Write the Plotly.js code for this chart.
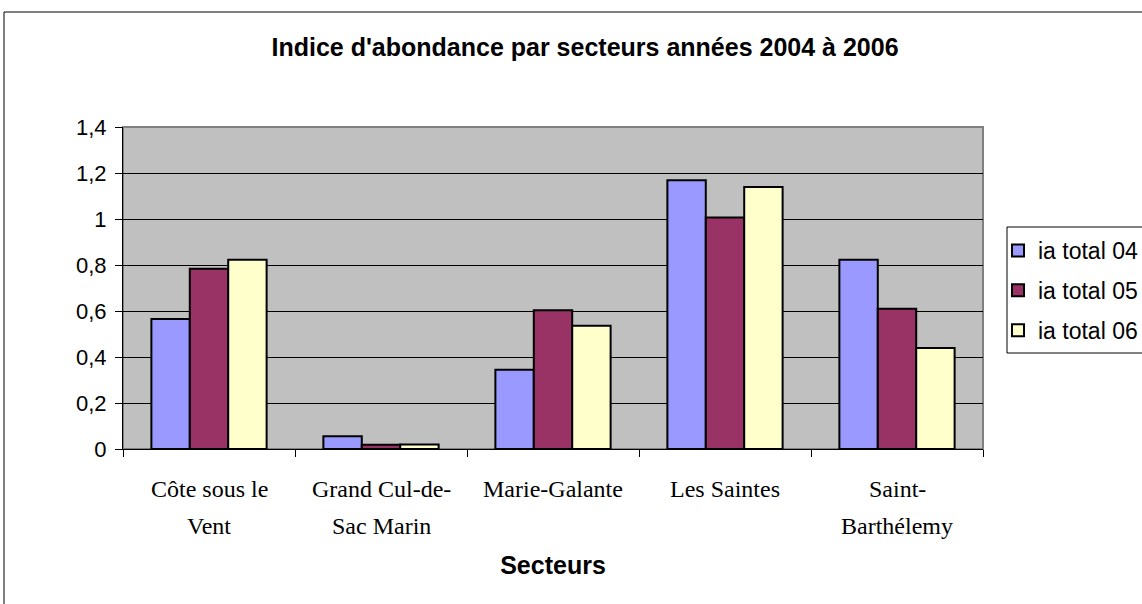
<!DOCTYPE html>
<html>
<head>
<meta charset="utf-8">
<script src="https://cdn.plot.ly/plotly-3.0.1.min.js"></script>
<style>html,body{margin:0;padding:0;background:#fff;}#chart{width:1142px;height:604px;}</style>
</head>
<body>
<div id="chart"></div>
<script>
var categories = ["Côte sous le Vent", "Grand Cul-de-Sac Marin", "Marie-Galante", "Les Saintes", "Saint-Barthélemy"];
var labelLines = [["Côte sous le", "Vent"], ["Grand Cul-de-", "Sac Marin"], ["Marie-Galante"], ["Les Saintes"], ["Saint-", "Barthélemy"]];
var seriesNames = ["ia total 04", "ia total 05", "ia total 06"];
var ia04 = [0.565, 0.055, 0.345, 1.168, 0.823];
var ia05 = [0.784, 0.019, 0.603, 1.006, 0.610];
var ia06 = [0.823, 0.020, 0.536, 1.139, 0.439];
var yTickVals = [0, 0.2, 0.4, 0.6, 0.8, 1, 1.2, 1.4];
var yTickText = ["0", "0,2", "0,4", "0,6", "0,8", "1", "1,2", "1,4"];
var colors = ["#9999FF", "#993366", "#FFFFCC"];

var sans = "Liberation Sans, Arial, sans-serif";
var serif = "Liberation Serif, Times New Roman, serif";

var values = [ia04, ia05, ia06];
var traces = values.map(function (v, i) {
  return {
    type: "bar",
    name: seriesNames[i],
    x: categories,
    y: v,
    legendgroup: "g" + i,
    marker: {color: colors[i], line: {color: "#000", width: 2}},
    hoverinfo: "x+y+name"
  };
});

// plot area geometry (px) for paper conversions
var L = 123, R = 983, T = 127, B = 449;
function px2x(px) { return (px - L) / (R - L); }
function py2y(py) { return (B - py) / (B - T); }

var annotations = [];
var lineY = [489, 526];
labelLines.forEach(function (lines, i) {
  lines.forEach(function (t, j) {
    annotations.push({
      xref: "x", yref: "paper", x: categories[i], y: py2y(lineY[j]),
      text: t, showarrow: false, xanchor: "center", yanchor: "middle",
      font: {family: serif, size: 24, color: "#000"}
    });
  });
});

var layout = {
  width: 1142, height: 604,
  margin: {l: L, r: 1142 - R, t: T, b: 604 - B, pad: 0, autoexpand: false},
  paper_bgcolor: "#fff",
  plot_bgcolor: "#C0C0C0",
  barmode: "group",
  bargap: 0.33,
  bargroupgap: 0,
  showlegend: true,
  title: {
    text: "<b>Indice d'abondance par secteurs années 2004 à 2006</b>",
    font: {family: sans, size: 25, color: "#000"},
    x: 585 / 1142, xanchor: "center", xref: "container",
    y: 1 - 47 / 604, yanchor: "middle", yref: "container"
  },
  xaxis: {
    type: "category",
    showticklabels: false,
    ticks: "outside", ticklen: 7, tickcolor: "#000", tickwidth: 1,
    tickson: "boundaries",
    showline: true, linecolor: "#000", linewidth: 1,
    showgrid: false, zeroline: false, automargin: false,
    title: {text: "<b>Secteurs</b>", font: {family: sans, size: 25, color: "#000"}, standoff: 107}
  },
  yaxis: {
    range: [0, 1.4],
    tickvals: yTickVals, ticktext: yTickText,
    ticks: "outside", ticklen: 7, tickcolor: "#000", tickwidth: 1,
    ticklabelstandoff: 4,
    tickfont: {family: sans, size: 22, color: "#000"},
    showline: true, linecolor: "#000", linewidth: 1,
    showgrid: true, gridcolor: "#000", gridwidth: 1,
    zeroline: false, fixedrange: true, automargin: false
  },
  legend: {
    x: px2x(998), xanchor: "left",
    y: py2y(229), yanchor: "top",
    bgcolor: "rgba(0,0,0,0)", borderwidth: 0,
    font: {family: sans, size: 23, color: "#000"},
    traceorder: "grouped", tracegroupgap: 7
  },
  annotations: annotations,
  shapes: [
    {type: "rect", xref: "paper", yref: "paper", x0: 0, x1: 1, y0: 0, y1: 1,
     line: {color: "#808080", width: 2}, layer: "below"},
    {type: "rect", xref: "paper", yref: "paper", x0: px2x(1007), x1: px2x(1150), y0: py2y(353), y1: py2y(227),
     line: {color: "#000", width: 1}, fillcolor: "rgba(0,0,0,0)"},
    {type: "rect", xref: "paper", yref: "paper", x0: px2x(4), x1: px2x(1160), y0: py2y(620), y1: py2y(12),
     line: {color: "#000", width: 1}, fillcolor: "rgba(0,0,0,0)"}
  ]
};

Plotly.newPlot("chart", traces, layout, {displayModeBar: false, responsive: false});
</script>
</body>
</html>
